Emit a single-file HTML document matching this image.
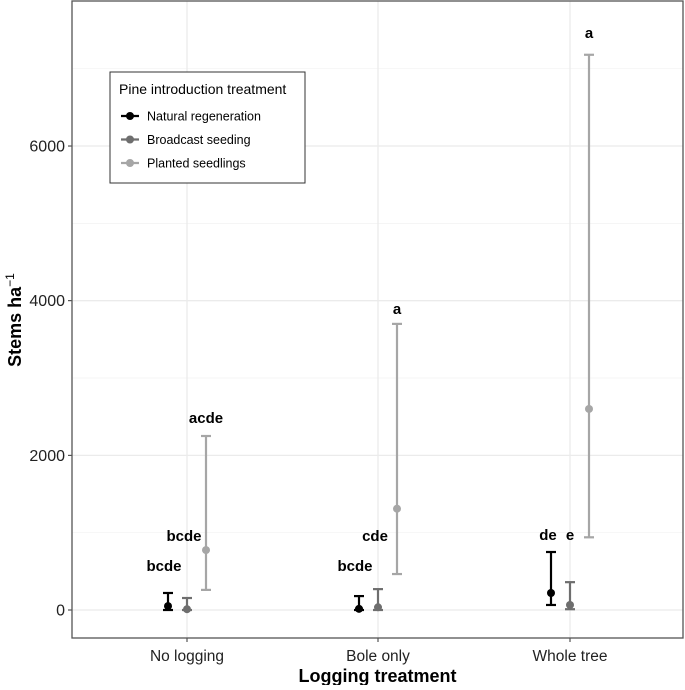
<!DOCTYPE html>
<html><head><meta charset="utf-8"><style>
body{margin:0;background:#fff}
text{font-family:"Liberation Sans",Arial,sans-serif}
</style></head><body>
<svg id="c" width="685" height="685" xmlns="http://www.w3.org/2000/svg"></svg>
<script>
const categories=["No logging","Bole only","Whole tree"];
const seriesNames=["Natural regeneration","Broadcast seeding","Planted seedlings"];
const means=[[50,10,775],[15,35,1310],[220,65,2600]];
const lows=[[0,0,260],[0,0,465],[65,10,940]];
const highs=[[220,155,2250],[180,270,3700],[750,360,7180]];
const letters=[["bcde","bcde","acde"],["bcde","cde","a"],["de","e","a"]];
const letterVals=[[505,890,2420],[505,890,3830],[905,905,7400]];
const yTicks=[0,2000,4000,6000];
const yMinor=[1000,3000,5000,7000];
const colors=["#000000","#6e6e6e","#a6a6a6"];
const L=72,R=683,T=1,B=638;
const y=v=>610-v*0.07733;
const cx=[187,378,570], dodge=19;
const x=(i,j)=>cx[i]+(j-1)*dodge;
const svg=document.getElementById('c');const NS="http://www.w3.org/2000/svg";
function el(t,a,p){const e=document.createElementNS(NS,t);for(const k in a)e.setAttribute(k,a[k]);(p||svg).appendChild(e);return e;}
const g=el('g',{});
yMinor.forEach(v=>el('line',{x1:L,x2:R,y1:y(v),y2:y(v),stroke:'#f2f2f2','stroke-width':0.7},g));
yTicks.forEach(v=>el('line',{x1:L,x2:R,y1:y(v),y2:y(v),stroke:'#ebebeb','stroke-width':1.3},g));
cx.forEach(c=>el('line',{x1:c,x2:c,y1:T,y2:B,stroke:'#ebebeb','stroke-width':1.3},g));
yTicks.forEach(v=>{
 el('line',{x1:L-4,x2:L,y1:y(v),y2:y(v),stroke:'#333'});
 const t=el('text',{x:L-7,y:y(v)+5.5,'text-anchor':'end','font-size':16,fill:'#222'});t.textContent=v;
 
});
categories.forEach((c,i)=>{
 el('line',{x1:cx[i],x2:cx[i],y1:B,y2:B+4,stroke:'#333'});
 const t=el('text',{x:cx[i],y:661,'text-anchor':'middle','font-size':15.5,fill:'#222'});t.textContent=c;
 
});
for(let i=0;i<3;i++)for(let j=0;j<3;j++){
 const s=el('g',{});
 const xx=x(i,j),c=colors[j];
 el('line',{x1:xx,x2:xx,y1:y(lows[i][j]),y2:y(highs[i][j]),stroke:c,'stroke-width':2.2},s);
 el('line',{x1:xx-5,x2:xx+5,y1:y(lows[i][j]),y2:y(lows[i][j]),stroke:c,'stroke-width':2.2},s);
 el('line',{x1:xx-5,x2:xx+5,y1:y(highs[i][j]),y2:y(highs[i][j]),stroke:c,'stroke-width':2.2},s);
 el('circle',{cx:xx,cy:y(means[i][j]),r:4,fill:c},s);
 let lx=xx; if(j===0) lx=xx-(letters[i][j]==="de"?3:4); if(j===1 && i<2) lx=xx-3;
 const t=el('text',{x:lx,y:y(letterVals[i][j]),'text-anchor':'middle','font-size':15,'font-weight':'bold',fill:'#000'});t.textContent=letters[i][j];
 
}
el('rect',{x:L,y:T,width:R-L,height:B-T,fill:'none',stroke:'#555','stroke-width':1.3});
let t=el('text',{x:(L+R)/2,y:682,'text-anchor':'middle','font-size':18,'font-weight':'bold'});t.textContent="Logging treatment";

t=el('text',{transform:'translate(21,320) rotate(-90)','text-anchor':'middle','font-size':18,'font-weight':'bold'});
t.innerHTML='Stems ha<tspan dy="-7" font-size="12" font-weight="normal">−1</tspan>';

const lg=el('g',{});
el('rect',{x:110,y:72,width:195,height:111,fill:'#fff',stroke:'#333','stroke-width':1},lg);
t=el('text',{x:119,y:94,'font-size':14},lg);t.textContent="Pine introduction treatment";
seriesNames.forEach((n,j)=>{
 const yy=116+j*23.5;
 el('line',{x1:121,x2:139,y1:yy,y2:yy,stroke:colors[j],'stroke-width':2.2},lg);
 el('circle',{cx:130,cy:yy,r:4,fill:colors[j]},lg);
 const tt=el('text',{x:147,y:yy+4.5,'font-size':12.5},lg);tt.textContent=n;
 
});
</script></body></html>
